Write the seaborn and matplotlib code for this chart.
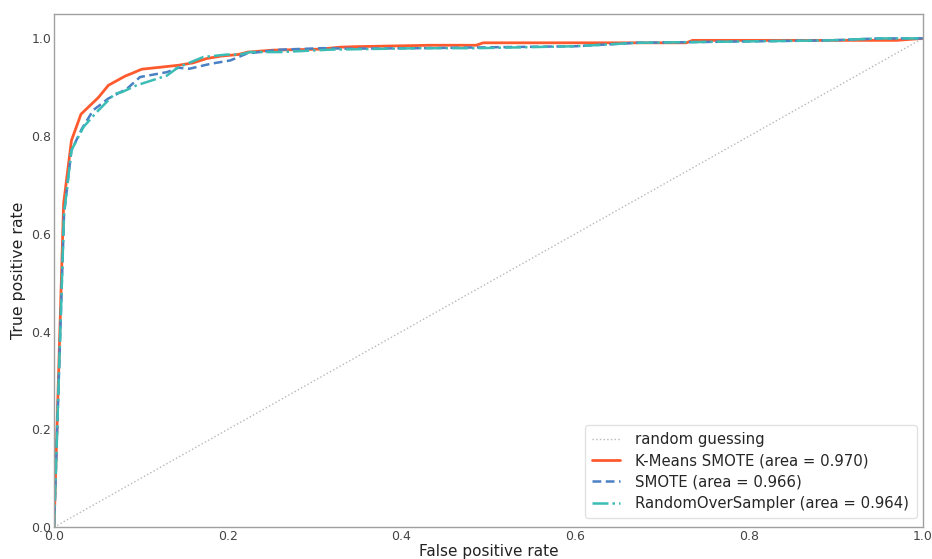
import matplotlib
matplotlib.use("Agg")
import matplotlib.pyplot as plt
import seaborn as sns

# Data
diag = [0.0, 1.0]

kmeans_fpr = [0, 0.011, 0.020, 0.031, 0.051, 0.0625, 0.082, 0.089, 0.101, 0.143, 0.160, 0.176,
              0.193, 0.212, 0.223, 0.252, 0.306, 0.329, 0.344, 0.433, 0.486, 0.494, 0.594,
              0.728, 0.735, 0.970, 1.0]
kmeans_tpr = [0, 0.662, 0.791, 0.845, 0.879, 0.904, 0.923, 0.928, 0.937, 0.945, 0.950, 0.959,
              0.964, 0.967, 0.972, 0.976, 0.978, 0.982, 0.983, 0.986, 0.986, 0.991, 0.991,
              0.991, 0.996, 0.996, 1.0]

smote_fpr = [0, 0.0115, 0.020, 0.032, 0.045, 0.0625, 0.084, 0.099, 0.130, 0.143, 0.156, 0.180,
             0.203, 0.222, 0.260, 0.309, 0.337, 0.42, 0.509, 0.601, 0.67, 0.893, 0.95, 1.0]
smote_tpr = [0, 0.641, 0.771, 0.815, 0.853, 0.877, 0.897, 0.921, 0.931, 0.940, 0.938, 0.948,
             0.955, 0.969, 0.977, 0.980, 0.979, 0.980, 0.982, 0.984, 0.991, 0.996, 1.0, 1.0]

ros_fpr = [0, 0.0115, 0.020, 0.034, 0.049, 0.070, 0.078, 0.095, 0.130, 0.143, 0.172, 0.199,
           0.214, 0.226, 0.26, 0.318, 0.42, 0.486, 0.601, 0.67, 0.893, 0.95, 1.0]
ros_tpr = [0, 0.641, 0.771, 0.819, 0.849, 0.887, 0.890, 0.904, 0.924, 0.941, 0.962, 0.967,
           0.967, 0.972, 0.972, 0.977, 0.980, 0.980, 0.984, 0.991, 0.996, 1.0, 1.0]

labels = ["random guessing",
          "K-Means SMOTE (area = 0.970)",
          "SMOTE (area = 0.966)",
          "RandomOverSampler (area = 0.964)"]

sns.set_style("white")
plt.rcParams['font.family'] = ['DejaVu Sans']

fig = plt.figure(figsize=(9.32, 5.59), dpi=100)
ax = fig.add_axes([0.058, 0.057, 0.932, 0.918])

sns.lineplot(x=diag, y=diag, ax=ax, color="#b8b8b8", linestyle=":", linewidth=1,
             label=labels[0], estimator=None, sort=False)
sns.lineplot(x=kmeans_fpr, y=kmeans_tpr, ax=ax, color="#ff5a2e", linestyle="-", linewidth=2,
             label=labels[1], estimator=None, sort=False)
sns.lineplot(x=smote_fpr, y=smote_tpr, ax=ax, color="#4a80c4", linestyle=(0, (3.5, 1.8)),
             linewidth=1.8, label=labels[2], estimator=None, sort=False)
sns.lineplot(x=ros_fpr, y=ros_tpr, ax=ax, color="#3bbdb5", linestyle="-.", linewidth=1.8,
             label=labels[3], estimator=None, sort=False)

ax.set_xlim(0, 1)
ax.set_ylim(0, 1.05)
ax.set_xticks([0, 0.2, 0.4, 0.6, 0.8, 1.0])
ax.set_yticks([0, 0.2, 0.4, 0.6, 0.8, 1.0])
ax.tick_params(axis="both", labelsize=9, colors="#444444", length=0, pad=2)
for s in ax.spines.values():
    s.set_color("#a0a0a0")
    s.set_linewidth(1)
ax.set_xlabel("False positive rate", fontsize=11, color="#222222", labelpad=1)
ax.set_ylabel("True positive rate", fontsize=11.3, color="#222222", labelpad=4)

leg = ax.legend(loc="lower right", fontsize=10.7, frameon=True, borderpad=0.5,
                handlelength=1.9, handletextpad=1.0, labelspacing=0.42,
                borderaxespad=0, bbox_to_anchor=(0.993, 0.0175))
leg.get_frame().set_edgecolor("#dddddd")

fig.savefig("out.png", dpi=100)
